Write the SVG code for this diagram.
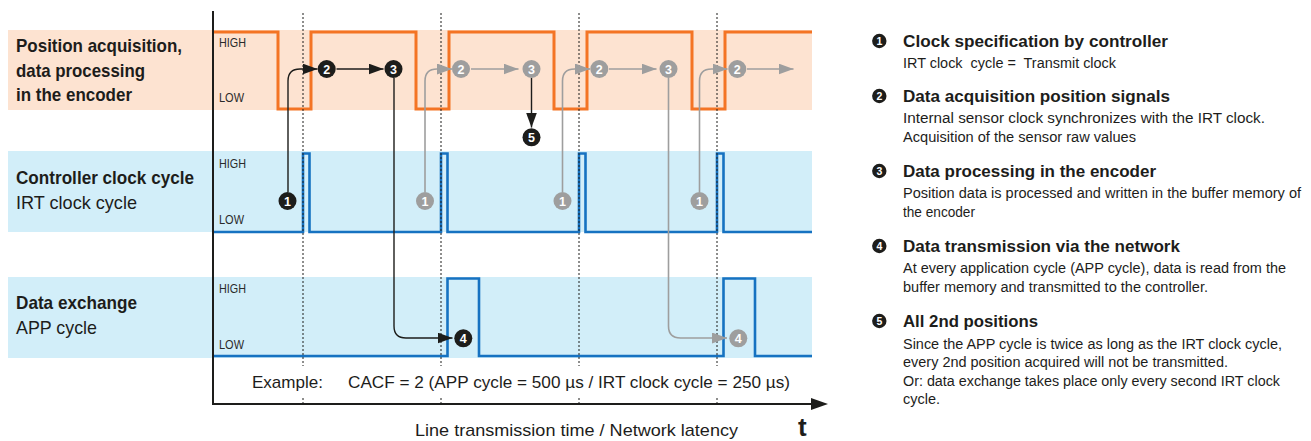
<svg xmlns="http://www.w3.org/2000/svg" width="1311" height="441" viewBox="0 0 1311 441">
<style>
text{font-family:"Liberation Sans Narrow","Liberation Sans",Arial,sans-serif;fill:#1d1d1b}
.b{font-weight:bold}
.hl{font-size:12px;fill:#2a2a2a}
.lab{font-size:19px}
.leg-t{font-size:16.5px;font-weight:bold}
.leg-b{font-size:14px}
.num{font-size:12.5px;font-weight:bold;fill:#fff;text-anchor:middle}
.numS{font-size:10.5px;font-weight:bold;fill:#fff;text-anchor:middle}
.bandO{fill:#fde3d1}
.bandB{fill:#d2eef9}
.wO{fill:none;stroke:#f47424;stroke-width:3}
.wB{fill:none;stroke:#1672c1;stroke-width:2.6}
.dot{stroke:#1d1d1b;stroke-width:1;stroke-dasharray:2 2}
.cb{fill:none;stroke:#1d1d1b;stroke-width:1.4}
.cg{fill:none;stroke:#9e9e9e;stroke-width:1.6}
.mk{fill:#1d1d1b}
.mg{fill:#9e9e9e}
</style>
<defs>
<marker id="ab" markerUnits="userSpaceOnUse" markerWidth="15" markerHeight="11" viewBox="0 0 15 11" refX="15" refY="5.5" orient="auto"><path d="M0,0 L15,5.5 L0,11 z" fill="#1d1d1b"/></marker>
<marker id="ag" markerUnits="userSpaceOnUse" markerWidth="15" markerHeight="11" viewBox="0 0 15 11" refX="15" refY="5.5" orient="auto"><path d="M0,0 L15,5.5 L0,11 z" fill="#9e9e9e"/></marker>
</defs>

<g id="bands">
<rect class="bandO" x="8" y="30" width="804" height="80"/>
<rect class="bandB" x="8" y="151" width="804" height="81"/>
<rect class="bandB" x="8" y="277" width="804" height="81"/>
</g>

<g id="row-encoder">
<text class="lab b" x="16" y="52" textLength="166" lengthAdjust="spacingAndGlyphs">Position acquisition,</text>
<text class="lab b" x="16" y="77" textLength="129" lengthAdjust="spacingAndGlyphs">data processing</text>
<text class="lab b" x="16" y="101" textLength="116" lengthAdjust="spacingAndGlyphs">in the encoder</text>
<text class="hl" x="219" y="47" textLength="27" lengthAdjust="spacingAndGlyphs">HIGH</text>
<text class="hl" x="219" y="102" textLength="25" lengthAdjust="spacingAndGlyphs">LOW</text>
<path class="wO" d="M213,32 H278 V109 H311 V32 H416 V109 H449 V32 H554 V109 H587 V32 H692 V109 H725 V32 H812"/>
</g>

<g id="row-controller">
<text class="lab b" x="16" y="184" textLength="178" lengthAdjust="spacingAndGlyphs">Controller clock cycle</text>
<text class="lab" x="16" y="209" textLength="121" lengthAdjust="spacingAndGlyphs">IRT clock cycle</text>
<text class="hl" x="219" y="168" textLength="27" lengthAdjust="spacingAndGlyphs">HIGH</text>
<text class="hl" x="219" y="224" textLength="25" lengthAdjust="spacingAndGlyphs">LOW</text>
<path class="wB" d="M213,232 H303 V153.5 H309.5 V232 H441 V153.5 H447.5 V232 H579 V153.5 H585.5 V232 H717 V153.5 H723.5 V232 H812"/>
</g>

<g id="row-exchange">
<text class="lab b" x="16" y="309" textLength="121" lengthAdjust="spacingAndGlyphs">Data exchange</text>
<text class="lab" x="16" y="334" textLength="81" lengthAdjust="spacingAndGlyphs">APP cycle</text>
<text class="hl" x="219" y="293" textLength="27" lengthAdjust="spacingAndGlyphs">HIGH</text>
<text class="hl" x="219" y="349" textLength="25" lengthAdjust="spacingAndGlyphs">LOW</text>
<path class="wB" d="M213,356 H447.5 V278.5 H479 V356 H723.5 V278.5 H755 V356 H812"/>
</g>

<g id="gridlines">
<path class="dot" d="M303,13 V366 M303,398 V404 M441,13 V366 M441,398 V404 M579,13 V366 M579,398 V404 M717,13 V366 M717,398 V404"/>
</g>

<g id="axis">
<path d="M213,11 V405 M212,404 H813" fill="none" stroke="#1d1d1b" stroke-width="2"/>
<path d="M811,398 L828,404 L811,410 z" fill="#1d1d1b"/>
<text x="252" y="388" style="font-size:17px" textLength="71" lengthAdjust="spacingAndGlyphs">Example:</text>
<text x="348" y="388" style="font-size:17px" textLength="442" lengthAdjust="spacingAndGlyphs">CACF = 2 (APP cycle = 500 µs / IRT clock cycle = 250 µs)</text>
<text x="415" y="436" style="font-size:17px" textLength="323" lengthAdjust="spacingAndGlyphs">Line transmission time / Network latency</text>
<text class="b" x="798" y="436" style="font-size:26px">t</text>
</g>

<g id="connectors">
<path class="cb" marker-end="url(#ab)" d="M288,192 V81 Q288,69 300,69 H317.5"/>
<path class="cb" marker-end="url(#ab)" d="M336.5,69 H383.5"/>
<path class="cb" marker-end="url(#ab)" d="M394,78 V326 Q394,338 406,338 H452.5"/>
<path class="cg" marker-end="url(#ag)" d="M425,192 V81 Q425,69 437,69 H452"/>
<path class="cg" marker-end="url(#ag)" d="M471,69 H518.5"/>
<path class="cb" marker-end="url(#ab)" d="M531.5,78 V127.5"/>
<path class="cg" marker-end="url(#ag)" d="M562.5,192 V81 Q562.5,69 574.5,69 H590"/>
<path class="cg" marker-end="url(#ag)" d="M609,69 H656.5"/>
<path class="cg" marker-end="url(#ag)" d="M668.5,78 V326 Q668.5,338 680.5,338 H727"/>
<path class="cg" marker-end="url(#ag)" d="M699.5,192 V81 Q699.5,69 711.5,69 H727.5"/>
<path class="cg" marker-end="url(#ag)" d="M747,69 H793.5"/>
</g>

<g id="m1-black"><circle class="mk" cx="287.5" cy="201" r="9"/><text class="num" x="287.5" y="205.5">1</text></g>
<g id="m2-black"><circle class="mk" cx="326.7" cy="69" r="9"/><text class="num" x="326.7" y="73.5">2</text></g>
<g id="m3-black"><circle class="mk" cx="393.5" cy="69" r="9"/><text class="num" x="393.5" y="73.5">3</text></g>
<g id="m4-black"><circle class="mk" cx="463.3" cy="338.3" r="9"/><text class="num" x="463.3" y="342.8">4</text></g>
<g id="m5-black"><circle class="mk" cx="531.5" cy="137.3" r="9"/><text class="num" x="531.5" y="141.8">5</text></g>
<g id="m1-gray-a"><circle class="mg" cx="425" cy="201" r="9"/><text class="num" x="425" y="205.5">1</text></g>
<g id="m2-gray-a"><circle class="mg" cx="461" cy="69" r="9"/><text class="num" x="461" y="73.5">2</text></g>
<g id="m3-gray-a"><circle class="mg" cx="531.5" cy="69" r="9"/><text class="num" x="531.5" y="73.5">3</text></g>
<g id="m1-gray-b"><circle class="mg" cx="562.5" cy="201" r="9"/><text class="num" x="562.5" y="205.5">1</text></g>
<g id="m2-gray-b"><circle class="mg" cx="599.3" cy="69" r="9"/><text class="num" x="599.3" y="73.5">2</text></g>
<g id="m3-gray-b"><circle class="mg" cx="668.5" cy="69" r="9"/><text class="num" x="668.5" y="73.5">3</text></g>
<g id="m4-gray"><circle class="mg" cx="738.3" cy="338.3" r="9"/><text class="num" x="738.3" y="342.8">4</text></g>
<g id="m1-gray-c"><circle class="mg" cx="699.5" cy="201" r="9"/><text class="num" x="699.5" y="205.5">1</text></g>
<g id="m2-gray-c"><circle class="mg" cx="737.3" cy="69" r="9"/><text class="num" x="737.3" y="73.5">2</text></g>

<g id="legend">
<g id="leg1">
<circle class="mk" cx="879.3" cy="41" r="7.2"/><text class="numS" x="879.3" y="44.8">1</text>
<text class="leg-t" x="903" y="47" textLength="265" lengthAdjust="spacingAndGlyphs">Clock specification by controller</text>
<text class="leg-b" x="903" y="68" textLength="213" lengthAdjust="spacingAndGlyphs" xml:space="preserve">IRT clock  cycle =  Transmit clock</text>
</g>
<g id="leg2">
<circle class="mk" cx="879.3" cy="96" r="7.2"/><text class="numS" x="879.3" y="99.8">2</text>
<text class="leg-t" x="903" y="102" textLength="267" lengthAdjust="spacingAndGlyphs">Data acquisition position signals</text>
<text class="leg-b" x="903" y="123" textLength="362" lengthAdjust="spacingAndGlyphs">Internal sensor clock synchronizes with the IRT clock.</text>
<text class="leg-b" x="903" y="141.5" textLength="233" lengthAdjust="spacingAndGlyphs">Acquisition of the sensor raw values</text>
</g>
<g id="leg3">
<circle class="mk" cx="879.3" cy="171" r="7.2"/><text class="numS" x="879.3" y="174.8">3</text>
<text class="leg-t" x="903" y="177" textLength="253" lengthAdjust="spacingAndGlyphs">Data processing in the encoder</text>
<text class="leg-b" x="903" y="198" textLength="398" lengthAdjust="spacingAndGlyphs">Position data is processed and written in the buffer memory of</text>
<text class="leg-b" x="903" y="216.5" textLength="72" lengthAdjust="spacingAndGlyphs">the encoder</text>
</g>
<g id="leg4">
<circle class="mk" cx="879.3" cy="246" r="7.2"/><text class="numS" x="879.3" y="249.8">4</text>
<text class="leg-t" x="903" y="252" textLength="277" lengthAdjust="spacingAndGlyphs">Data transmission via the network</text>
<text class="leg-b" x="903" y="273" textLength="383" lengthAdjust="spacingAndGlyphs">At every application cycle (APP cycle), data is read from the</text>
<text class="leg-b" x="903" y="291.5" textLength="305" lengthAdjust="spacingAndGlyphs">buffer memory and transmitted to the controller.</text>
</g>
<g id="leg5">
<circle class="mk" cx="879.3" cy="321" r="7.2"/><text class="numS" x="879.3" y="324.8">5</text>
<text class="leg-t" x="903" y="327" textLength="135" lengthAdjust="spacingAndGlyphs">All 2nd positions</text>
<text class="leg-b" x="903" y="348.5" textLength="379" lengthAdjust="spacingAndGlyphs">Since the APP cycle is twice as long as the IRT clock cycle,</text>
<text class="leg-b" x="903" y="367" textLength="325" lengthAdjust="spacingAndGlyphs">every 2nd position acquired will not be transmitted.</text>
<text class="leg-b" x="903" y="385.5" textLength="377" lengthAdjust="spacingAndGlyphs">Or: data exchange takes place only every second IRT clock</text>
<text class="leg-b" x="903" y="404" textLength="37" lengthAdjust="spacingAndGlyphs">cycle.</text>
</g>
</g>
</svg>
